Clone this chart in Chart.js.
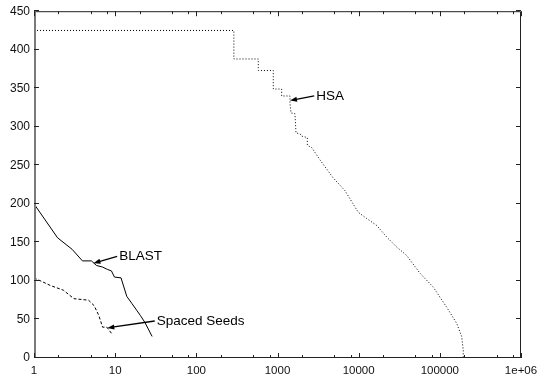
<!DOCTYPE html>
<html>
<head>
<meta charset="utf-8">
<script src="https://cdn.jsdelivr.net/npm/chart.js@4.4.0/dist/chart.umd.min.js"></script>
<style>
html, body { margin: 0; padding: 0; background: #fff; }
#wrap { width: 538px; height: 381px; }
</style>
</head>
<body>
<div id="wrap"><canvas id="c"></canvas></div>
<script>
// HSA curve (dotted, stepped at the top)
const hsaX = [1, 290, 290, 580, 580, 887, 887, 1125, 1125, 1426, 1426, 1468, 1640, 1690, 1890, 1970, 2330, 2330,
    2640, 3340, 4830, 6410, 6790, 9890, 12560, 16680, 22150, 29420, 39080, 56900, 83000, 121300, 161300, 185700, 194500, 194500];
const hsaY = [425, 425, 388, 388, 373, 373, 349, 349, 340, 340, 330, 318, 317, 292, 291, 288, 286, 276,
    273, 257, 234, 220, 217, 189, 181, 172, 157, 144, 133, 110, 92, 66, 45, 28, 10, 0];

// BLAST (solid)
const blastX = [1, 1.95, 2.95, 3.95, 5.1, 5.9, 7.0, 8.0, 9.0, 9.8, 11.8, 13.9, 16.0, 18.4, 20.5, 23.3, 28.5];
const blastY = [200, 156, 141, 126, 126, 120, 118, 115, 113, 105, 104, 80, 71, 62, 55, 46, 28];

// Spaced Seeds (dashed)
const seedsX = [1, 1.6, 2.3, 3.1, 4.7, 5.5, 6.3, 6.9, 7.0, 7.9, 9.0];
const seedsY = [104, 94, 88, 77, 75, 68, 55, 42, 40, 40, 32];

const xTickValues = [1, 10, 100, 1000, 10000, 100000, 1000000];
const xTickLabels = ['1', '10', '100', '1000', '10000', '100000', '1e+06'];
const xMinorSteps = [2, 5, 8];
const yTickValues = [0, 50, 100, 150, 200, 250, 300, 350, 400, 450];

// labels with arrows: text anchor and arrow tip in data units
const labels = [
    {text: 'HSA', tx: 3000, ty: 340, tipX: 1426, tipY: 334},
    {text: 'BLAST', tx: 11.2, ty: 132, tipX: 5.4, tipY: 123},
    {text: 'Spaced Seeds', tx: 32.5, ty: 48, tipX: 8.0, tipY: 39}
];

const FONT = '"Liberation Sans", Arial, Helvetica, sans-serif';

function pts(xs, ys) {
    return xs.map((x, i) => ({x: x, y: ys[i]}));
}

const framePlugin = {
    id: 'frame',
    afterDatasetsDraw(chart) {
        const ctx = chart.ctx;
        const a = chart.chartArea;
        const xs = chart.scales.x, ys = chart.scales.y;
        ctx.save();
        // box: thin dark top/right/bottom, heavier grey left edge
        ctx.strokeStyle = '#222';
        ctx.lineWidth = 1;
        ctx.beginPath();
        ctx.moveTo(a.left, a.top + 0.5);
        ctx.lineTo(a.right - 0.5, a.top + 0.5);
        ctx.lineTo(a.right - 0.5, a.bottom - 0.5);
        ctx.lineTo(a.left, a.bottom - 0.5);
        ctx.stroke();
        ctx.strokeStyle = '#7a7a7a';
        ctx.lineWidth = 2;
        ctx.beginPath();
        ctx.moveTo(a.left + 1, a.top);
        ctx.lineTo(a.left + 1, a.bottom);
        ctx.stroke();

        // inward ticks on all four sides
        ctx.strokeStyle = '#222';
        ctx.lineWidth = 1;
        ctx.beginPath();
        yTickValues.forEach(v => {
            const py = Math.round(ys.getPixelForValue(v)) - 0.5;
            ctx.moveTo(a.left, py); ctx.lineTo(a.left + 5, py);
            ctx.moveTo(a.right, py); ctx.lineTo(a.right - 5, py);
        });
        xTickValues.forEach((v, i) => {
            const px = Math.round(xs.getPixelForValue(v)) + 0.5;
            ctx.moveTo(px, a.bottom); ctx.lineTo(px, a.bottom - 5);
            ctx.moveTo(px, a.top); ctx.lineTo(px, a.top + 5);
            if (i < xTickValues.length - 1) {
                xMinorSteps.forEach(m => {
                    const mx = Math.round(xs.getPixelForValue(v * m)) + 0.5;
                    ctx.moveTo(mx, a.bottom); ctx.lineTo(mx, a.bottom - 3);
                    ctx.moveTo(mx, a.top); ctx.lineTo(mx, a.top + 3);
                });
            }
        });
        ctx.stroke();

        // annotation arrows
        ctx.fillStyle = '#000';
        ctx.strokeStyle = '#000';
        ctx.font = '13.5px ' + FONT;
        ctx.textBaseline = 'middle';
        labels.forEach(l => {
            const tx = xs.getPixelForValue(l.tx), ty = ys.getPixelForValue(l.ty);
            const hx = xs.getPixelForValue(l.tipX), hy = ys.getPixelForValue(l.tipY);
            const sx = tx - 2, sy = ty;
            const ang = Math.atan2(hy - sy, hx - sx);
            ctx.lineWidth = 1.3;
            ctx.beginPath();
            ctx.moveTo(sx, sy);
            ctx.lineTo(hx - 5 * Math.cos(ang), hy - 5 * Math.sin(ang));
            ctx.stroke();
            ctx.beginPath();
            ctx.moveTo(hx, hy);
            ctx.lineTo(hx - 7 * Math.cos(ang) + 2.5 * Math.sin(ang), hy - 7 * Math.sin(ang) - 2.5 * Math.cos(ang));
            ctx.lineTo(hx - 7 * Math.cos(ang) - 2.5 * Math.sin(ang), hy - 7 * Math.sin(ang) + 2.5 * Math.cos(ang));
            ctx.closePath();
            ctx.fill();
            ctx.fillText(l.text, tx, ty);
        });
        ctx.restore();
    }
};

new Chart(document.getElementById('c'), {
    type: 'scatter',
    data: {
        datasets: [
            {label: 'HSA', data: pts(hsaX, hsaY), showLine: true, borderColor: '#000', borderWidth: 1,
                borderDash: [1, 2], pointRadius: 0, tension: 0},
            {label: 'BLAST', data: pts(blastX, blastY), showLine: true, borderColor: '#000', borderWidth: 1,
                pointRadius: 0, tension: 0},
            {label: 'Spaced Seeds', data: pts(seedsX, seedsY), showLine: true, borderColor: '#000', borderWidth: 1,
                borderDash: [3, 2], pointRadius: 0, tension: 0}
        ]
    },
    options: {
        responsive: true,
        maintainAspectRatio: false,
        animation: false,
        layout: {padding: {top: 10, right: 17, left: 0, bottom: 0}},
        plugins: {legend: {display: false}, tooltip: {enabled: false}},
        scales: {
            x: {
                type: 'logarithmic',
                min: 1,
                max: 1000000,
                afterBuildTicks: s => { s.ticks = xTickValues.map(v => ({value: v})); },
                afterFit: s => { s.height = 23; s.paddingLeft = 0; s.paddingRight = 0; },
                grid: {display: false, drawTicks: false},
                border: {display: false},
                ticks: {
                    autoSkip: false,
                    maxRotation: 0,
                    padding: 6,
                    color: '#111',
                    font: {family: FONT, size: 11.5},
                    callback: (v, i) => xTickLabels[i]
                }
            },
            y: {
                min: 0,
                max: 450,
                afterBuildTicks: s => { s.ticks = yTickValues.map(v => ({value: v})); },
                afterFit: s => { s.width = 34; },
                grid: {display: false, drawTicks: false},
                border: {display: false},
                ticks: {
                    padding: 4,
                    color: '#111',
                    font: {family: FONT, size: 12},
                    callback: v => String(v)
                }
            }
        }
    },
    plugins: [framePlugin]
});
</script>
</body>
</html>
